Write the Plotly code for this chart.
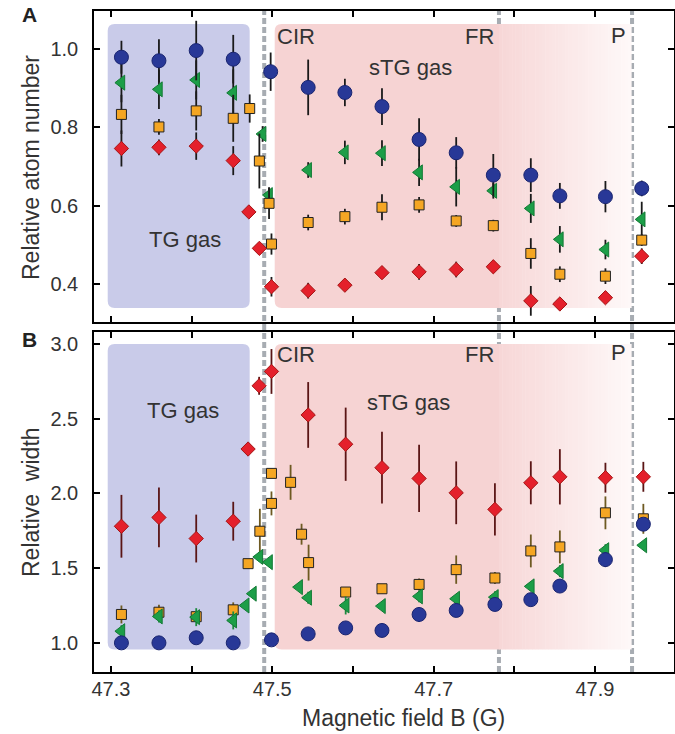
import plotly.graph_objects as go

# ---------------- DATA ----------------
# Panel A: relative atom number
a_blue_x = [47.313, 47.3595, 47.4057, 47.4516, 47.498, 47.5445, 47.590, 47.636, 47.682, 47.728, 47.774, 47.8205, 47.8565, 47.913, 47.958]
a_blue_y = [0.979, 0.970, 0.996, 0.974, 0.942, 0.902, 0.889, 0.853, 0.769, 0.735, 0.678, 0.678, 0.625, 0.623, 0.644]
a_blue_e = [0.042, 0.055, 0.076, 0.062, 0.049, 0.071, 0.035, 0.047, 0.054, 0.040, 0.054, 0.043, 0.033, 0.040, 0.020]

a_green_x = [47.313, 47.3595, 47.4057, 47.4516, 47.488, 47.496, 47.5445, 47.590, 47.636, 47.682, 47.728, 47.774, 47.8205, 47.8565, 47.913, 47.958]
a_green_y = [0.914, 0.897, 0.921, 0.888, 0.783, 0.627, 0.691, 0.736, 0.734, 0.685, 0.648, 0.638, 0.593, 0.514, 0.488, 0.565]
a_green_e = [0.050, 0.050, 0.050, 0.060, 0.020, 0.020, 0.020, 0.030, 0.033, 0.035, 0.050, 0.020, 0.037, 0.034, 0.025, 0.045]

a_orange_x = [47.313, 47.3595, 47.4057, 47.4516, 47.472, 47.484, 47.496, 47.499, 47.5445, 47.590, 47.636, 47.682, 47.728, 47.774, 47.8205, 47.8565, 47.913, 47.958]
a_orange_y = [0.833, 0.801, 0.842, 0.823, 0.848, 0.714, 0.606, 0.502, 0.557, 0.572, 0.596, 0.602, 0.561, 0.549, 0.478, 0.425, 0.420, 0.512]
a_orange_e = [0.050, 0.020, 0.050, 0.060, 0.036, 0.070, 0.040, 0.027, 0.020, 0.020, 0.033, 0.020, 0.015, 0.015, 0.039, 0.020, 0.020, 0.015]

a_red_x = [47.313, 47.3595, 47.4057, 47.4516, 47.471, 47.484, 47.499, 47.5445, 47.590, 47.636, 47.682, 47.728, 47.774, 47.8205, 47.8565, 47.913, 47.958]
a_red_y = [0.746, 0.749, 0.752, 0.715, 0.584, 0.491, 0.393, 0.383, 0.397, 0.429, 0.431, 0.437, 0.444, 0.357, 0.349, 0.365, 0.471]
a_red_e = [0.046, 0.020, 0.035, 0.037, 0.015, 0.015, 0.025, 0.020, 0.015, 0.015, 0.020, 0.020, 0.015, 0.038, 0.015, 0.015, 0.020]

# Panel B: relative width
b_blue_x = [47.313, 47.3595, 47.4057, 47.4516, 47.499, 47.5445, 47.591, 47.636, 47.682, 47.728, 47.776, 47.8205, 47.8565, 47.913, 47.960]
b_blue_y = [1.000, 1.000, 1.034, 1.000, 1.020, 1.060, 1.100, 1.083, 1.190, 1.217, 1.257, 1.289, 1.380, 1.557, 1.794]
b_blue_e = [0.030, 0.020, 0.030, 0.030, 0.020, 0.020, 0.030, 0.030, 0.050, 0.040, 0.040, 0.030, 0.040, 0.050, 0.040]

b_green_x = [47.313, 47.3595, 47.4057, 47.4516, 47.467, 47.476, 47.484, 47.496, 47.5333, 47.5445, 47.591, 47.636, 47.682, 47.728, 47.776, 47.8205, 47.8565, 47.913, 47.960]
b_green_y = [1.078, 1.177, 1.172, 1.150, 1.250, 1.329, 1.575, 1.540, 1.373, 1.302, 1.250, 1.246, 1.311, 1.295, 1.306, 1.378, 1.480, 1.620, 1.653]
b_green_e = [0.040, 0.040, 0.060, 0.060, 0.030, 0.030, 0.030, 0.030, 0.030, 0.040, 0.060, 0.030, 0.040, 0.030, 0.040, 0.030, 0.040, 0.040, 0.020]

b_orange_x = [47.313, 47.3595, 47.4057, 47.4516, 47.470, 47.4846, 47.499, 47.499, 47.5227, 47.5363, 47.545, 47.591, 47.636, 47.682, 47.728, 47.776, 47.8205, 47.8565, 47.913, 47.960]
b_orange_y = [1.190, 1.205, 1.175, 1.221, 1.530, 1.747, 2.134, 1.933, 2.074, 1.727, 1.537, 1.340, 1.362, 1.391, 1.490, 1.434, 1.615, 1.642, 1.870, 1.830]
b_orange_e = [0.060, 0.050, 0.030, 0.050, 0.030, 0.150, 0.030, 0.080, 0.117, 0.070, 0.120, 0.030, 0.030, 0.040, 0.095, 0.040, 0.110, 0.110, 0.110, 0.100]

b_red_x = [47.313, 47.3595, 47.4057, 47.4516, 47.470, 47.4837, 47.499, 47.5445, 47.591, 47.636, 47.682, 47.728, 47.776, 47.8205, 47.8565, 47.913, 47.960]
b_red_y = [1.780, 1.839, 1.698, 1.814, 2.297, 2.720, 2.816, 2.525, 2.329, 2.172, 2.100, 2.004, 1.893, 2.071, 2.111, 2.105, 2.111]
b_red_e = [0.210, 0.200, 0.160, 0.130, 0.030, 0.060, 0.150, 0.220, 0.245, 0.240, 0.225, 0.210, 0.175, 0.144, 0.185, 0.100, 0.100]

x_tick_vals = [47.3, 47.4, 47.5, 47.6, 47.7, 47.8, 47.9]
x_tick_text = ["47.3", "", "47.5", "", "47.7", "", "47.9"]
ya_tick_vals = [0.4, 0.6, 0.8, 1.0]
ya_tick_text = ["0.4", "0.6", "0.8", "1.0"]
yb_tick_vals = [1.0, 1.5, 2.0, 2.5, 3.0]
yb_tick_text = ["1.0", "1.5", "2.0", "2.5", "3.0"]

boundaries = [47.49, 47.781, 47.946]   # CIR, FR, P

# ---------------- STYLE / LAYOUT ----------------
W, H = 675, 734
ML, MR, MT, MB = 94, 1, 11, 62
PW, PH = W - ML - MR, H - MT - MB
XR = [47.279, 47.998]
YA = [0.303, 1.097]
YB = [0.805, 3.08]
dom_a = [(H - MB - 322) / PH, 1.0]
dom_b = [0.0, (H - MB - 332) / PH]

def px2px(px):
    return (px - ML) / PW

def py2py(py):
    return (H - MB - py) / PH

FONT = "Liberation Sans, Arial, Helvetica, sans-serif"
C_BLUE, C_GREEN, C_ORANGE, C_RED = "#283897", "#1c9e48", "#f5a623", "#e4202b"

fig = go.Figure()

def add_series(xs, ys, es, xa, ya, symbol, size, color, lcolor, ecolor):
    fig.add_trace(go.Scatter(
        x=xs, y=ys, mode="markers", xaxis=xa, yaxis=ya,
        marker=dict(symbol=symbol, size=size, color=color, line=dict(color=lcolor, width=1)),
        error_y=dict(type="data", array=es, visible=True, color=ecolor, thickness=1.8, width=0),
        showlegend=False, hoverinfo="skip"))

# Panel A: green, orange, red, blue
add_series(a_green_x, a_green_y, a_green_e, "x", "y", "triangle-left", 13, C_GREEN, "#137a35", "#1a1a1a")
add_series(a_orange_x, a_orange_y, a_orange_e, "x", "y", "square", 10, C_ORANGE, "#222222", "#1a1a1a")
add_series(a_red_x, a_red_y, a_red_e, "x", "y", "diamond", 11, C_RED, "#a51515", "#1a1a1a")
add_series(a_blue_x, a_blue_y, a_blue_e, "x", "y", "circle", 14, C_BLUE, "#1a2570", "#1a1a1a")
# Panel B: orange, green, blue, red
add_series(b_orange_x, b_orange_y, b_orange_e, "x2", "y2", "square", 10, C_ORANGE, "#222222", "#6e5a22")
add_series(b_green_x, b_green_y, b_green_e, "x2", "y2", "triangle-left", 13, C_GREEN, "#137a35", "#1c8a3e")
add_series(b_blue_x, b_blue_y, b_blue_e, "x2", "y2", "circle", 14, C_BLUE, "#1a2570", "#1a2570")
add_series(b_red_x, b_red_y, b_red_e, "x2", "y2", "diamond", 11, C_RED, "#a51515", "#5a1515")

shapes = []

def rrect(x0, x1, y0, y1, rx, ry, round_right=True):
    if round_right:
        right = (f"L{x1-rx},{y0} Q{x1},{y0} {x1},{y0+ry} L{x1},{y1-ry} Q{x1},{y1} {x1-rx},{y1} ")
    else:
        right = f"L{x1},{y0} L{x1},{y1} "
    return (f"M{x0+rx},{y0} " + right +
            f"L{x0+rx},{y1} Q{x0},{y1} {x0},{y1-ry} L{x0},{y0+ry} Q{x0},{y0} {x0+rx},{y0} Z")

xpx = (XR[1] - XR[0]) / PW
panels = [("x", "y", YA, dom_a, 0.339, 1.064), ("x2", "y2", YB, dom_b, 0.955, 3.0)]
for xr, yr, yrange, dom, ylo, yhi in panels:
    ypx = (yrange[1] - yrange[0]) / ((dom[1] - dom[0]) * PH)
    rx, ry = 7 * xpx, 7 * ypx
    shapes.append(dict(type="path", xref=xr, yref=yr, layer="below",
                       path=rrect(47.296, 47.472, ylo, yhi, rx, ry),
                       fillcolor="#c9cbe9", line=dict(width=0)))
    shapes.append(dict(type="path", xref=xr, yref=yr, layer="below",
                       path=rrect(47.503, 47.782, ylo, yhi, rx, ry, round_right=False),
                       fillcolor="rgb(246,211,211)", line=dict(width=0)))
    n = 40
    g0, g1 = 47.781, 47.945
    c0, c1 = (247, 215, 215), (254, 248, 248)
    for i in range(n):
        t = i / (n - 1)
        col = tuple(round(c0[k] + (c1[k] - c0[k]) * t) for k in range(3))
        xa0 = g0 + (g1 - g0) * i / n
        xa1 = g0 + (g1 - g0) * (i + 1) / n + 0.0005
        shapes.append(dict(type="rect", xref=xr, yref=yr, layer="below",
                           x0=xa0, x1=xa1, y0=ylo, y1=yhi,
                           fillcolor=f"rgb{col}", line=dict(width=0)))

for b in boundaries:
    shapes.append(dict(type="line", xref="x", yref="paper", layer="below",
                       x0=b, x1=b, y0=0, y1=1,
                       line=dict(color="#a7acb2", width=4, dash="6px,3px")))

fig.update_layout(shapes=shapes)

ann = []

def text(s, px, py, xanchor="center", size=22, bold=False, color="#333333"):
    ann.append(dict(text=(f"<b>{s}</b>" if bold else s), x=px2px(px), y=py2py(py),
                    xref="paper", yref="paper", xanchor=xanchor, yanchor="middle",
                    showarrow=False, font=dict(family=FONT, size=size, color=color)))

text("CIR", 275, 36, "left")
text("FR", 496, 36, "right")
text("P", 628, 35, "right")
text("sTG gas", 410, 68)
text("TG gas", 185, 239)
text("CIR", 275, 354, "left")
text("FR", 496, 354, "right")
text("P", 628, 353, "right")
text("sTG gas", 408, 402)
text("TG gas", 183, 410)
text("A", 29, 15, size=21, bold=True, color="#222222")
text("B", 29, 339, size=21, bold=True, color="#222222")
text("Magnetic field B (G)", 403, 718, size=23, color="#333333")
ann.append(dict(text="Relative atom number", x=px2px(31), y=py2py(168), xref="paper", yref="paper",
                xanchor="center", yanchor="middle", textangle=-90, showarrow=False,
                font=dict(family=FONT, size=23, color="#333333")))
ann.append(dict(text="Relative  width", x=px2px(31), y=py2py(502), xref="paper", yref="paper",
                xanchor="center", yanchor="middle", textangle=-90, showarrow=False,
                font=dict(family=FONT, size=23, color="#333333")))

axis_common = dict(showline=True, linecolor="black", linewidth=1.5, mirror="allticks",
                   ticks="inside", ticklen=6, tickwidth=1.5, tickcolor="black",
                   showgrid=False, zeroline=False,
                   tickfont=dict(family=FONT, size=20, color="#333333"))

fig.update_layout(
    width=W, height=H,
    margin=dict(l=ML, r=MR, t=MT, b=MB, autoexpand=False),
    paper_bgcolor="white", plot_bgcolor="white",
    annotations=ann,
    xaxis=dict(domain=[0, 1], anchor="y", range=XR, tickvals=x_tick_vals,
               showticklabels=False, **axis_common),
    yaxis=dict(domain=dom_a, anchor="x", range=YA, tickvals=ya_tick_vals,
               ticktext=ya_tick_text, ticklabelstandoff=10, **axis_common),
    xaxis2=dict(domain=[0, 1], anchor="y2", range=XR, tickvals=x_tick_vals,
                ticktext=x_tick_text, ticklabelstandoff=-2, **axis_common),
    yaxis2=dict(domain=dom_b, anchor="x2", range=YB, tickvals=yb_tick_vals,
                ticktext=yb_tick_text, ticklabelstandoff=10, **axis_common),
)

fig.write_html("out.html", config={"displayModeBar": False},
               post_script="document.body.style.margin='0px';")
